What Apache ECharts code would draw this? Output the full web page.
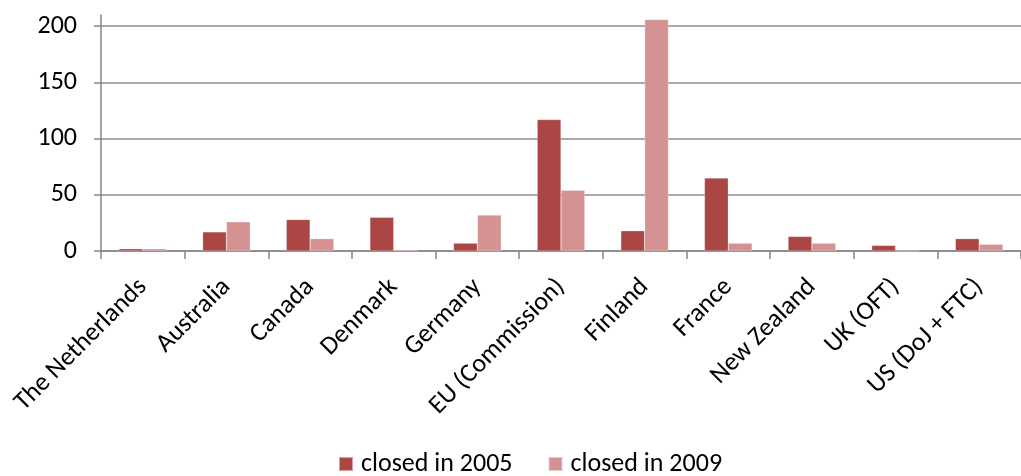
<!DOCTYPE html>
<html>
<head>
<meta charset="utf-8">
<script src="https://cdn.jsdelivr.net/npm/echarts@6/dist/echarts.min.js"></script>
<style>html,body{margin:0;padding:0;background:#fff}#c{width:1021px;height:476px}</style>
</head>
<body>
<div id="c"></div>
<script>
const categories = ["The Netherlands","Australia","Canada","Denmark","Germany","EU (Commission)","Finland","France","New Zealand","UK (OFT)","US (DoJ + FTC)"];
const closed2005 = [2, 17, 28, 30, 7, 117, 18, 65, 13, 5, 11];
const closed2009 = [2, 26, 11, 1, 32, 54, 206, 7, 7, 0, 6];
const yTicks = [0, 50, 100, 150, 200];
const seriesNames = ["closed in 2005", "closed in 2009"];

const FONT = "Carlito, Lato, 'Open Sans', sans-serif";
const chart = echarts.init(document.getElementById('c'), null, {renderer: 'canvas'});
chart.setOption({
  animation: false,
  backgroundColor: '#ffffff',
  grid: {left: 101, right: -11, top: 15, bottom: 225, containLabel: false},
  legend: {
    top: 446, left: 333,
    itemWidth: 14, itemHeight: 14, itemGap: 35,
    icon: 'rect',
    textStyle: {fontFamily: FONT, fontSize: 26, color: '#000', padding: [0, 0, 0, 3]},
    data: seriesNames
  },
  xAxis: {
    type: 'category',
    data: categories,
    axisLine: {show: true, lineStyle: {color: '#868686', width: 1.5}},
    axisTick: {show: true, length: 8, lineStyle: {color: '#868686', width: 1.5}},
    axisLabel: {rotate: 45, interval: 0, margin: 32, fontFamily: FONT, fontSize: 26, color: '#000'}
  },
  yAxis: {
    type: 'value',
    min: 0, max: 210, interval: 50,
    axisLine: {show: true, lineStyle: {color: '#868686', width: 1.5}},
    axisTick: {show: true, inside: false, length: 7, customValues: yTicks, lineStyle: {color: '#868686', width: 1.5}},
    axisLabel: {margin: 24, customValues: yTicks, fontFamily: FONT, fontSize: 26, color: '#000'},
    splitLine: {show: true, lineStyle: {color: '#8c8c8c', width: 1.5}}
  },
  series: [
    {
      name: seriesNames[0], type: 'bar', data: closed2005,
      barGap: '0%', barCategoryGap: '43%',
      itemStyle: {color: '#AA4643', borderColor: 'rgba(255,255,255,0.5)', borderWidth: 0.5}
    },
    {
      name: seriesNames[1], type: 'bar', data: closed2009,
      itemStyle: {color: '#D49392', borderColor: 'rgba(255,255,255,0.5)', borderWidth: 0.5}
    }
  ]
});
</script>
</body>
</html>
